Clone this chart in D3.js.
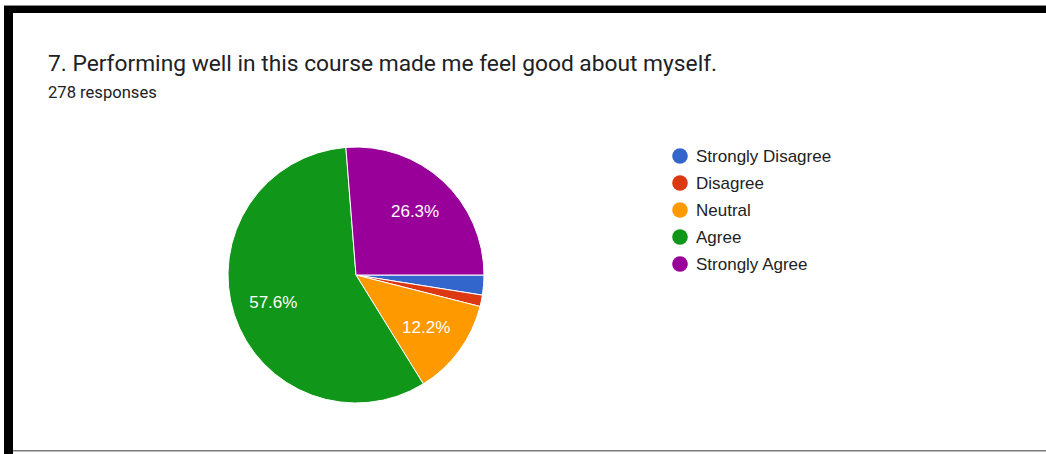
<!DOCTYPE html>
<html>
<head>
<meta charset="utf-8">
<script src="https://cdn.jsdelivr.net/npm/d3@7"></script>
<style>
  html, body { margin: 0; padding: 0; background: #fff; }
  svg { display: block; }
</style>
</head>
<body>
<svg id="chart" width="1046" height="454"></svg>
<script>
// Survey question and response counts
const title = "7. Performing well in this course made me feel good about myself.";
const subtitle = "278 responses";
const categories = ["Strongly Disagree", "Disagree", "Neutral", "Agree", "Strongly Agree"];
const counts = [7, 4, 34, 160, 73];
const colors = ["#3366cc", "#dc3912", "#ff9900", "#109618", "#990099"];

const svg = d3.select("#chart");
const W = 1046, H = 454;

// Card frame
svg.append("rect").attr("x", 0).attr("y", 0).attr("width", W).attr("height", H).attr("fill", "#fff");
svg.append("rect").attr("x", 4).attr("y", 5).attr("width", W - 4).attr("height", 1).attr("fill", "#8a8a8a");
svg.append("rect").attr("x", 4).attr("y", 6).attr("width", W - 4).attr("height", 7).attr("fill", "#000");
svg.append("rect").attr("x", 4).attr("y", 6).attr("width", 9).attr("height", H - 6).attr("fill", "#000");
svg.append("rect").attr("x", 13).attr("y", 450).attr("width", W - 13).attr("height", 1.5).attr("fill", "#7a7a7a");

// Heading
svg.append("text")
  .attr("x", 48).attr("y", 71)
  .attr("font-family", "Roboto, 'Noto Sans', sans-serif")
  .attr("font-size", 22.75)
  .attr("fill", "#202124")
  .text(title);
svg.append("text")
  .attr("x", 48).attr("y", 97.5)
  .attr("font-family", "Roboto, 'Noto Sans', sans-serif")
  .attr("font-size", 16.6)
  .attr("fill", "#202124")
  .text(subtitle);

// Pie
const cx = 356, cy = 275, radius = 128;
const total = d3.sum(counts);
const data = categories.map((c, i) => ({ name: c, value: counts[i], color: colors[i] }));

const pie = d3.pie()
  .value(d => d.value)
  .sort(null)
  .startAngle(Math.PI / 2)
  .endAngle(Math.PI / 2 + 2 * Math.PI);

const arc = d3.arc().innerRadius(0).outerRadius(radius);
const labelArc = d3.arc().innerRadius(radius * 0.68).outerRadius(radius * 0.68);

const g = svg.append("g").attr("transform", `translate(${cx},${cy})`);
const arcs = pie(data);

g.selectAll("path.slice")
  .data(arcs)
  .join("path")
  .attr("class", "slice")
  .attr("d", arc)
  .attr("fill", d => d.data.color)
  .attr("stroke", "#fff")
  .attr("stroke-width", 1);

const fmt = v => (v / total * 100).toFixed(1) + "%";
g.selectAll("text.pct")
  .data(arcs.filter(d => d.data.value / total >= 0.05))
  .join("text")
  .attr("class", "pct")
  .attr("transform", d => `translate(${labelArc.centroid(d)})`)
  .attr("text-anchor", "middle")
  .attr("dy", "0.36em")
  .attr("font-family", "Arial, 'Liberation Sans', sans-serif")
  .attr("font-size", 17)
  .attr("fill", "#fff")
  .text(d => fmt(d.data.value));

// Legend
const legendY = d3.scalePoint().domain(categories).range([156, 264]);
const legend = svg.append("g");
const rows = legend.selectAll("g")
  .data(data)
  .join("g")
  .attr("transform", d => `translate(680,${legendY(d.name)})`);
rows.append("circle").attr("r", 7.8).attr("fill", d => d.color);
rows.append("text")
  .attr("x", 16)
  .attr("y", 6)
  .attr("font-family", "Arial, 'Liberation Sans', sans-serif")
  .attr("font-size", 17)
  .attr("fill", "#222")
  .text(d => d.name);
</script>
</body>
</html>
